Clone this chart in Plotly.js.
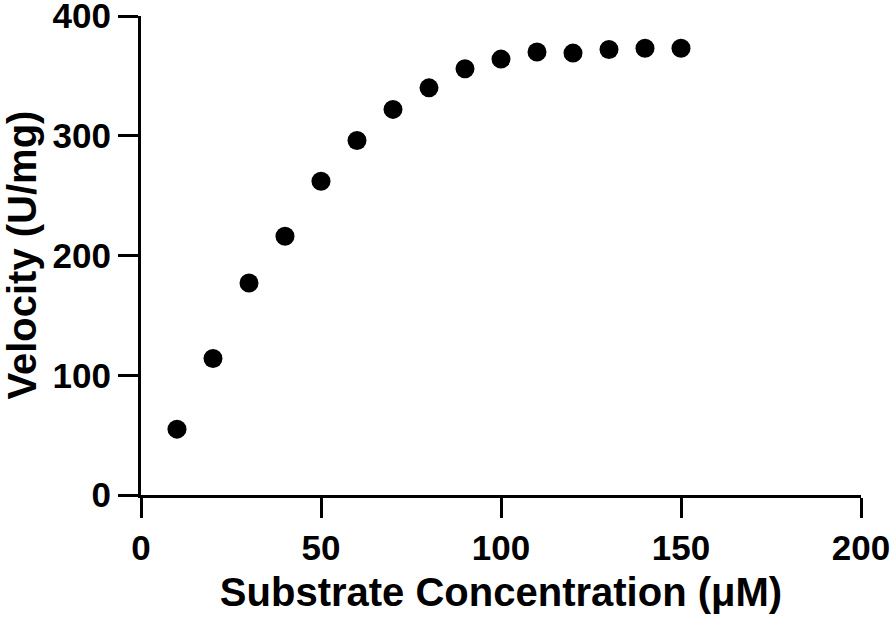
<!DOCTYPE html>
<html><head><meta charset="utf-8">
<script src="https://cdn.plot.ly/plotly-3.0.1.min.js"></script>
<style>html,body{margin:0;padding:0;background:#fff}#chart{width:894px;height:617px}</style>
</head><body><div id="chart"></div>
<script>
const concentration = [10, 20, 30, 40, 50, 60, 70, 80, 90, 100, 110, 120, 130, 140, 150];
const velocity = [55, 114, 177, 216, 262, 296, 322, 340, 356, 364, 370, 369, 372, 373, 373];
const xTicks = [0, 50, 100, 150, 200];
const yTicks = [0, 100, 200, 300, 400];
const xLabel = 'Substrate Concentration (μM)';
const yLabel = 'Velocity (U/mg)';

const font = 'Liberation Sans, Arial, sans-serif';
const axisCommon = {
  showline: true, linecolor: '#000', linewidth: 3,
  ticks: 'outside', ticklen: 20, tickwidth: 3, tickcolor: '#000',
  showgrid: false, zeroline: false,
  ticklabeloverflow: 'allow',
  tickfont: {family: font, size: 35, color: '#000', weight: 'bold'},
};
Plotly.newPlot('chart', [{
  x: concentration, y: velocity, type: 'scatter', mode: 'markers',
  marker: {color: '#000', size: 19, symbol: 'circle'},
  cliponaxis: false
}], {
  width: 894, height: 617,
  margin: {l: 141, r: 33, t: 16, b: 122},
  paper_bgcolor: '#fff', plot_bgcolor: '#fff',
  showlegend: false,
  xaxis: Object.assign({}, axisCommon, {
    range: [0, 200], tickvals: xTicks, ticktext: xTicks.map(String),
    title: {text: xLabel, font: {family: font, size: 40, color: '#000', weight: 'bold'}, standoff: 12}
  }),
  yaxis: Object.assign({}, axisCommon, {
    range: [0, 400], tickvals: yTicks, ticktext: yTicks.map(String)
  }),
  annotations: [{
    text: yLabel, textangle: -90, showarrow: false,
    xref: 'paper', yref: 'paper', x: 0, y: 0.5,
    xanchor: 'center', yanchor: 'middle', xshift: -120,
    font: {family: font, size: 40, color: '#000', weight: 'bold'}
  }]
}, {displayModeBar: false, staticPlot: true});
</script></body></html>
